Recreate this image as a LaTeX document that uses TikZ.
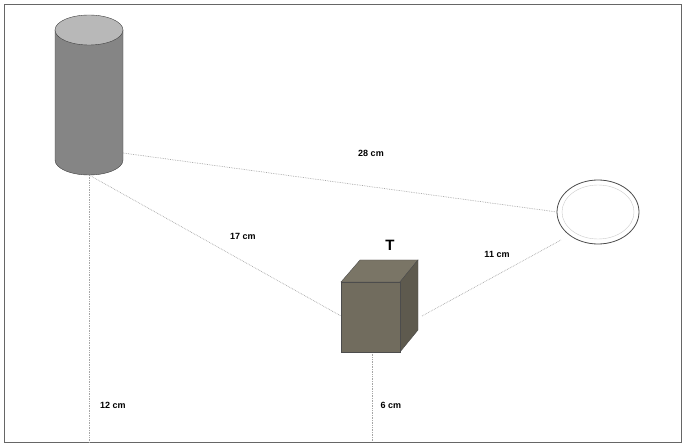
\documentclass[tikz,border=0pt]{standalone}
\usepackage{fontspec}
\setmainfont{Liberation Sans}
\definecolor{cylc}{HTML}{858585}
\definecolor{cyltop}{HTML}{B8B8B8}
\definecolor{boxf}{HTML}{716C5E}
\definecolor{boxt}{HTML}{7A7566}
\definecolor{boxr}{HTML}{5E5A4E}
\begin{document}
\begin{tikzpicture}[x=1pt,y=-1pt,
  lbl/.style={font=\bfseries\fontsize{9}{10}\selectfont},
  guide/.style={densely dotted,gray!70,line width=0.7pt}]
\useasboundingbox (0,0) rectangle (685,446);
\draw[gray!80!black,line width=0.8pt] (4,4) rectangle (681,442);
% guides
\coordinate (cylR) at (123,153);
\coordinate (cylB) at (89,175);
\coordinate (cylD) at (89,442);
\coordinate (plL) at (557,212);
\coordinate (plLB) at (561,240);
\coordinate (bxL) at (341,316);
\coordinate (bxR) at (422,316);
\coordinate (bxB) at (372,352);
\coordinate (bxD) at (372,442);
\draw[guide] (cylR) -- (plL);
\draw[guide] (cylB) -- (bxL);
\draw[guide] (bxR) -- (plLB);
\draw[guide] (cylB) -- (cylD);
\draw[guide] (bxB) -- (bxD);
% cylinder
\fill[cylc,draw=gray!50!black] (55,30) -- (55,160) arc[start angle=180,end angle=0,x radius=34,y radius=15] -- (123,30) -- cycle;
\fill[cyltop,draw=gray!50!black] (89,30) ellipse[x radius=34,y radius=15];
% plate
\filldraw[fill=white,draw=gray!60!black,line width=0.8pt] (598,212) ellipse[x radius=41,y radius=32];
\draw[gray!40] (598,212) ellipse[x radius=36,y radius=27];
% box
\filldraw[fill=boxt,draw=black!70] (341,282) -- (360,260) -- (418,260) -- (400,282) -- cycle;
\filldraw[fill=boxr,draw=black!70] (400,282) -- (418,260) -- (418,330) -- (400,352) -- cycle;
\filldraw[fill=boxf,draw=black!70] (341,282) rectangle (400,352);
% labels
\node[lbl] (l28) at (371,153) {28 cm};
\node[lbl] (l17) at (243,236) {17 cm};
\node[lbl] (l11) at (497,254) {11 cm};
\node[lbl] (l12) at (113,405) {12 cm};
\node[lbl] (l6) at (391,405) {6 cm};
\node[font=\bfseries\fontsize{15}{17}\selectfont] (T) at (390,245) {T};
\end{tikzpicture}
\end{document}
